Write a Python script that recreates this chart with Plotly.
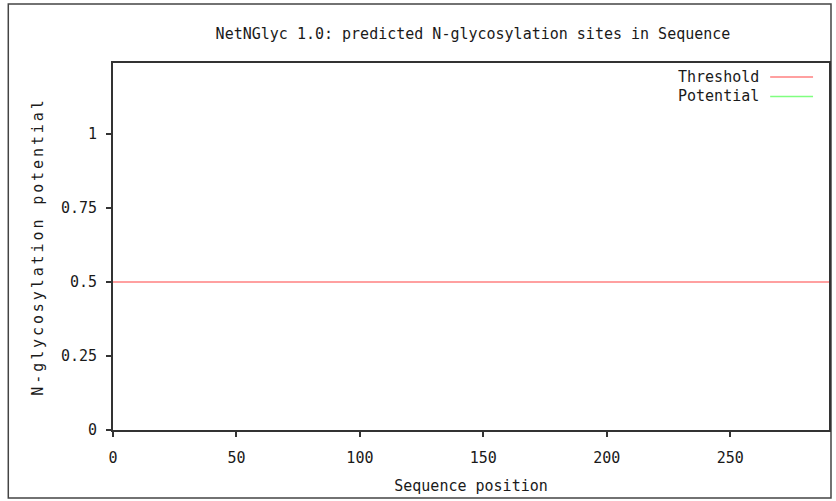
import plotly.graph_objects as go

# Data
threshold_x = [0, 290]
threshold_y = [0.5, 0.5]
potential_x = []
potential_y = []
x_ticks = [0, 50, 100, 150, 200, 250]
y_ticks = [0, 0.25, 0.5, 0.75, 1]
y_tick_labels = ["0", "0.25", "0.5", "0.75", "1"]

FONT = "DejaVu Sans Mono"
TXT = "#1a1a1a"
RED = "#ff8080"
GREEN = "#80ff80"

# plot area in pixels
PL, PR, PT, PB = 113, 831, 63, 430
PW, PH = PR - PL, PB - PT


def px(x):
    return (x - PL) / PW


def py(y):
    return (PB - y) / PH


fig = go.Figure()
fig.add_trace(go.Scatter(x=threshold_x, y=threshold_y, mode="lines",
                         line=dict(color=RED, width=1.6), name="Threshold",
                         showlegend=False))
fig.add_trace(go.Scatter(x=potential_x, y=potential_y, mode="lines",
                         line=dict(color=GREEN, width=1.6), name="Potential",
                         showlegend=False))

axis_common = dict(showgrid=False, zeroline=False, showline=True, mirror=True,
                   linecolor="#333333", linewidth=2, ticks="outside",
                   ticklen=5, tickwidth=1.5, tickcolor="#333333",
                   tickfont=dict(family=FONT, size=15, color=TXT))

fig.update_layout(
    width=836, height=501,
    margin=dict(l=PL, r=836 - PR, t=PT, b=501 - PB),
    paper_bgcolor="white", plot_bgcolor="white",
    title=dict(text="NetNGlyc 1.0: predicted N-glycosylation sites in Sequence",
               x=473 / 836, xanchor="center", y=1 - 34 / 501, yanchor="middle",
               font=dict(family=FONT, size=15, color=TXT)),
    xaxis=dict(range=[0, 290], tickvals=x_ticks, ticklabelstandoff=8,
               title=dict(text="Sequence position", standoff=14,
                          font=dict(family=FONT, size=15, color=TXT)),
               **axis_common),
    yaxis=dict(range=[0, 1.24], tickvals=y_ticks, ticktext=y_tick_labels,
               ticklabelstandoff=6,
               title=dict(text='<span style="letter-spacing:2.9px">N-glycosylation potential</span>',
                          standoff=14,
                          font=dict(family=FONT, size=15, color=TXT)),
               **axis_common),
    showlegend=False,
)

# Outer frame
fig.add_shape(type="rect", xref="paper", yref="paper",
              x0=px(8), x1=px(833), y0=py(498), y1=py(4),
              line=dict(color="#444444", width=1.5), layer="below")

# Custom legend (text then line sample, as in the reference)
legend_items = [("Threshold", RED), ("Potential", GREEN)]
for i, (name, col) in enumerate(legend_items):
    ypx = 77 + i * 19.5
    fig.add_annotation(xref="paper", yref="paper", x=px(763), y=py(ypx),
                       text=name, showarrow=False, xanchor="right",
                       yanchor="middle",
                       font=dict(family=FONT, size=15, color=TXT))
    fig.add_shape(type="line", xref="paper", yref="paper",
                  x0=px(772), x1=px(815), y0=py(ypx), y1=py(ypx),
                  line=dict(color=col, width=1.6))

fig.write_html("out.html", config={"displayModeBar": False},
               post_script="document.body.style.margin='0';")
